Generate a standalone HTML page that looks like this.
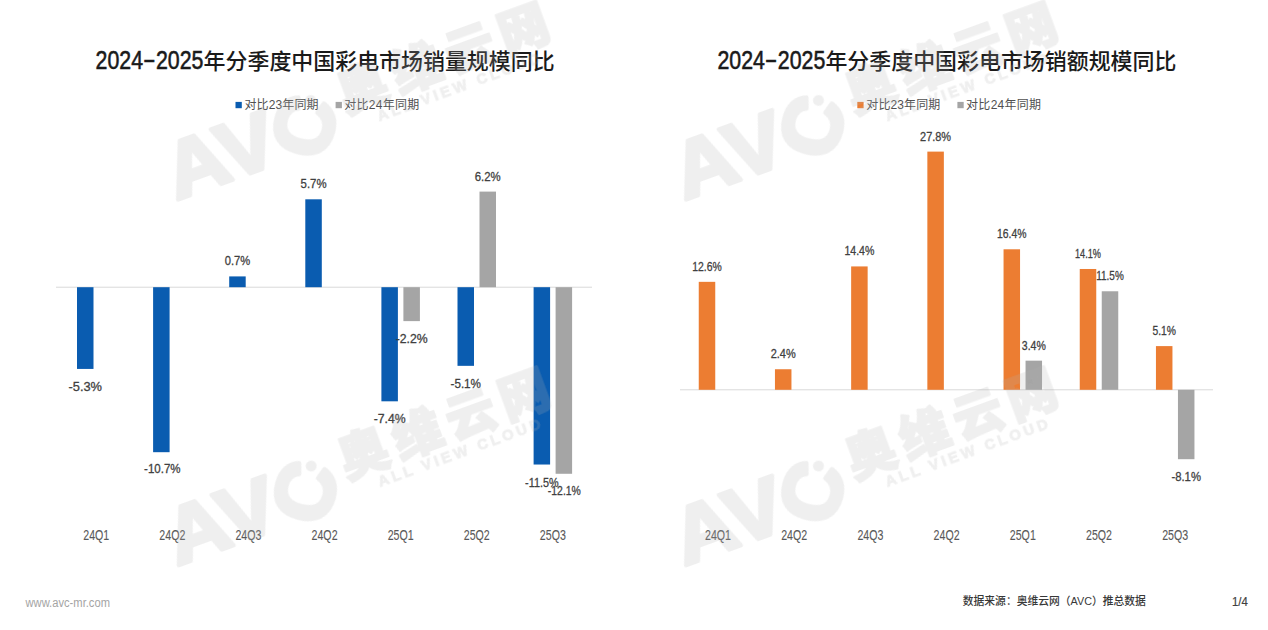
<!DOCTYPE html>
<html><head><meta charset="utf-8"><title>2024-2025年分季度中国彩电市场规模同比</title>
<style>
html,body{margin:0;padding:0;background:#fff;}
body{width:1268px;height:630px;overflow:hidden;}
svg{display:block;font-family:"Liberation Sans", "Noto Sans CJK SC", sans-serif;}
</style></head>
<body>
<svg width="1268" height="630" viewBox="0 0 1268 630">
<rect x="0" y="0" width="1268" height="630" fill="#ffffff"/>
<text x="95.60" y="69.30" font-size="25" fill="#1a1a1a" textLength="47.5" lengthAdjust="spacingAndGlyphs" stroke="#1a1a1a" stroke-width="0.55">2024</text>
<text x="142.90" y="67.60" font-size="25" fill="#1a1a1a" textLength="12.6" lengthAdjust="spacingAndGlyphs" stroke="#1a1a1a" stroke-width="0.55">-</text>
<text x="156.00" y="69.30" font-size="25" fill="#1a1a1a" textLength="47.5" lengthAdjust="spacingAndGlyphs" stroke="#1a1a1a" stroke-width="0.55">2025</text>
<text x="203.60" y="68.50" font-size="22" fill="#1a1a1a" textLength="351.0" lengthAdjust="spacingAndGlyphs" font-weight="500">年分季度中国彩电市场销量规模同比</text>
<rect x="235.50" y="101.90" width="6.30" height="6.30" fill="#0a5cb0"/>
<text x="244.50" y="108.60" font-size="12" fill="#505050" textLength="74.0" lengthAdjust="spacing">对比23年同期</text>
<rect x="335.60" y="101.90" width="6.30" height="6.30" fill="#a5a5a5"/>
<text x="344.30" y="108.60" font-size="12" fill="#505050" textLength="75.0" lengthAdjust="spacing">对比24年同期</text>
<rect x="56.00" y="286.70" width="536.00" height="1.00" fill="#d9d9d9"/>
<text x="96.25" y="540.00" font-size="14" fill="#595959" text-anchor="middle" textLength="26.0" lengthAdjust="spacingAndGlyphs" stroke="#5a5a5a" stroke-width="0.1">24Q1</text>
<rect x="77.00" y="287.20" width="16.50" height="81.73" fill="#0a5cb0"/>
<text x="85.25" y="390.73" font-size="13" fill="#404040" text-anchor="middle" textLength="33.5" lengthAdjust="spacingAndGlyphs" stroke="#404040" stroke-width="0.3">-5.3%</text>
<text x="172.35" y="540.00" font-size="14" fill="#595959" text-anchor="middle" textLength="26.0" lengthAdjust="spacingAndGlyphs" stroke="#5a5a5a" stroke-width="0.1">24Q2</text>
<rect x="153.10" y="287.20" width="16.50" height="164.99" fill="#0a5cb0"/>
<text x="162.35" y="472.60" font-size="13" fill="#404040" text-anchor="middle" textLength="36.5" lengthAdjust="spacingAndGlyphs" stroke="#404040" stroke-width="0.3">-10.7%</text>
<text x="248.45" y="540.00" font-size="14" fill="#595959" text-anchor="middle" textLength="26.0" lengthAdjust="spacingAndGlyphs" stroke="#5a5a5a" stroke-width="0.1">24Q3</text>
<rect x="229.20" y="276.41" width="16.50" height="10.79" fill="#0a5cb0"/>
<text x="237.45" y="265.41" font-size="13" fill="#404040" text-anchor="middle" textLength="25.5" lengthAdjust="spacingAndGlyphs" stroke="#404040" stroke-width="0.3">0.7%</text>
<text x="324.55" y="540.00" font-size="14" fill="#595959" text-anchor="middle" textLength="26.0" lengthAdjust="spacingAndGlyphs" stroke="#5a5a5a" stroke-width="0.1">24Q2</text>
<rect x="305.30" y="199.31" width="16.50" height="87.89" fill="#0a5cb0"/>
<text x="313.55" y="188.31" font-size="13" fill="#404040" text-anchor="middle" textLength="26.0" lengthAdjust="spacingAndGlyphs" stroke="#404040" stroke-width="0.3">5.7%</text>
<text x="400.65" y="540.00" font-size="14" fill="#595959" text-anchor="middle" textLength="26.0" lengthAdjust="spacingAndGlyphs" stroke="#5a5a5a" stroke-width="0.1">25Q1</text>
<rect x="381.40" y="287.20" width="16.50" height="114.11" fill="#0a5cb0"/>
<text x="389.65" y="423.11" font-size="13" fill="#404040" text-anchor="middle" textLength="32.0" lengthAdjust="spacingAndGlyphs" stroke="#404040" stroke-width="0.3">-7.4%</text>
<rect x="403.40" y="287.20" width="16.50" height="33.92" fill="#a5a5a5"/>
<text x="411.65" y="342.92" font-size="13" fill="#404040" text-anchor="middle" textLength="32.0" lengthAdjust="spacingAndGlyphs" stroke="#404040" stroke-width="0.3">-2.2%</text>
<text x="476.75" y="540.00" font-size="14" fill="#595959" text-anchor="middle" textLength="26.0" lengthAdjust="spacingAndGlyphs" stroke="#5a5a5a" stroke-width="0.1">25Q2</text>
<rect x="457.50" y="287.20" width="16.50" height="78.64" fill="#0a5cb0"/>
<text x="465.75" y="387.64" font-size="13" fill="#404040" text-anchor="middle" textLength="30.5" lengthAdjust="spacingAndGlyphs" stroke="#404040" stroke-width="0.3">-5.1%</text>
<rect x="479.50" y="191.60" width="16.50" height="95.60" fill="#a5a5a5"/>
<text x="487.75" y="180.60" font-size="13" fill="#404040" text-anchor="middle" textLength="26.0" lengthAdjust="spacingAndGlyphs" stroke="#404040" stroke-width="0.3">6.2%</text>
<text x="552.85" y="540.00" font-size="14" fill="#595959" text-anchor="middle" textLength="26.0" lengthAdjust="spacingAndGlyphs" stroke="#5a5a5a" stroke-width="0.1">25Q3</text>
<rect x="533.60" y="287.20" width="16.50" height="177.33" fill="#0a5cb0"/>
<text x="541.85" y="487.20" font-size="13" fill="#404040" text-anchor="middle" textLength="33.5" lengthAdjust="spacingAndGlyphs" stroke="#404040" stroke-width="0.3">-11.5%</text>
<rect x="555.60" y="287.20" width="16.50" height="186.58" fill="#a5a5a5"/>
<text x="564.35" y="495.20" font-size="13" fill="#404040" text-anchor="middle" textLength="33.0" lengthAdjust="spacingAndGlyphs" stroke="#404040" stroke-width="0.3">-12.1%</text>
<text x="717.40" y="69.30" font-size="25" fill="#1a1a1a" textLength="47.5" lengthAdjust="spacingAndGlyphs" stroke="#1a1a1a" stroke-width="0.55">2024</text>
<text x="764.70" y="67.60" font-size="25" fill="#1a1a1a" textLength="12.6" lengthAdjust="spacingAndGlyphs" stroke="#1a1a1a" stroke-width="0.55">-</text>
<text x="777.80" y="69.30" font-size="25" fill="#1a1a1a" textLength="47.5" lengthAdjust="spacingAndGlyphs" stroke="#1a1a1a" stroke-width="0.55">2025</text>
<text x="825.40" y="68.50" font-size="22" fill="#1a1a1a" textLength="351.0" lengthAdjust="spacingAndGlyphs" font-weight="500">年分季度中国彩电市场销额规模同比</text>
<rect x="857.30" y="101.90" width="6.30" height="6.30" fill="#ec7d32"/>
<text x="866.30" y="108.60" font-size="12" fill="#505050" textLength="74.0" lengthAdjust="spacing">对比23年同期</text>
<rect x="957.40" y="101.90" width="6.30" height="6.30" fill="#a5a5a5"/>
<text x="966.10" y="108.60" font-size="12" fill="#505050" textLength="75.0" lengthAdjust="spacing">对比24年同期</text>
<rect x="680.00" y="389.30" width="533.00" height="1.00" fill="#d9d9d9"/>
<text x="718.00" y="540.00" font-size="14" fill="#595959" text-anchor="middle" textLength="26.0" lengthAdjust="spacingAndGlyphs" stroke="#5a5a5a" stroke-width="0.1">24Q1</text>
<rect x="698.75" y="281.84" width="16.50" height="107.96" fill="#ec7d32"/>
<text x="707.00" y="270.84" font-size="13" fill="#404040" text-anchor="middle" textLength="29.5" lengthAdjust="spacingAndGlyphs" stroke="#404040" stroke-width="0.3">12.6%</text>
<text x="794.20" y="540.00" font-size="14" fill="#595959" text-anchor="middle" textLength="26.0" lengthAdjust="spacingAndGlyphs" stroke="#5a5a5a" stroke-width="0.1">24Q2</text>
<rect x="774.95" y="369.24" width="16.50" height="20.56" fill="#ec7d32"/>
<text x="783.20" y="358.24" font-size="13" fill="#404040" text-anchor="middle" textLength="25.0" lengthAdjust="spacingAndGlyphs" stroke="#404040" stroke-width="0.3">2.4%</text>
<text x="870.40" y="540.00" font-size="14" fill="#595959" text-anchor="middle" textLength="26.0" lengthAdjust="spacingAndGlyphs" stroke="#5a5a5a" stroke-width="0.1">24Q3</text>
<rect x="851.15" y="266.42" width="16.50" height="123.38" fill="#ec7d32"/>
<text x="859.40" y="255.42" font-size="13" fill="#404040" text-anchor="middle" textLength="30.0" lengthAdjust="spacingAndGlyphs" stroke="#404040" stroke-width="0.3">14.4%</text>
<text x="946.60" y="540.00" font-size="14" fill="#595959" text-anchor="middle" textLength="26.0" lengthAdjust="spacingAndGlyphs" stroke="#5a5a5a" stroke-width="0.1">24Q2</text>
<rect x="927.35" y="151.61" width="16.50" height="238.19" fill="#ec7d32"/>
<text x="935.60" y="140.61" font-size="13" fill="#404040" text-anchor="middle" textLength="31.0" lengthAdjust="spacingAndGlyphs" stroke="#404040" stroke-width="0.3">27.8%</text>
<text x="1022.80" y="540.00" font-size="14" fill="#595959" text-anchor="middle" textLength="26.0" lengthAdjust="spacingAndGlyphs" stroke="#5a5a5a" stroke-width="0.1">25Q1</text>
<rect x="1003.55" y="249.28" width="16.50" height="140.52" fill="#ec7d32"/>
<text x="1011.80" y="238.28" font-size="13" fill="#404040" text-anchor="middle" textLength="29.5" lengthAdjust="spacingAndGlyphs" stroke="#404040" stroke-width="0.3">16.4%</text>
<rect x="1025.55" y="360.67" width="16.50" height="29.13" fill="#a5a5a5"/>
<text x="1033.80" y="349.67" font-size="13" fill="#404040" text-anchor="middle" textLength="24.0" lengthAdjust="spacingAndGlyphs" stroke="#404040" stroke-width="0.3">3.4%</text>
<text x="1099.00" y="540.00" font-size="14" fill="#595959" text-anchor="middle" textLength="26.0" lengthAdjust="spacingAndGlyphs" stroke="#5a5a5a" stroke-width="0.1">25Q2</text>
<rect x="1079.75" y="268.99" width="16.50" height="120.81" fill="#ec7d32"/>
<text x="1088.00" y="257.99" font-size="13" fill="#404040" text-anchor="middle" textLength="26.0" lengthAdjust="spacingAndGlyphs" stroke="#404040" stroke-width="0.3">14.1%</text>
<rect x="1101.75" y="291.27" width="16.50" height="98.53" fill="#a5a5a5"/>
<text x="1110.00" y="280.27" font-size="13" fill="#404040" text-anchor="middle" textLength="27.5" lengthAdjust="spacingAndGlyphs" stroke="#404040" stroke-width="0.3">11.5%</text>
<text x="1175.20" y="540.00" font-size="14" fill="#595959" text-anchor="middle" textLength="26.0" lengthAdjust="spacingAndGlyphs" stroke="#5a5a5a" stroke-width="0.1">25Q3</text>
<rect x="1155.95" y="346.10" width="16.50" height="43.70" fill="#ec7d32"/>
<text x="1164.20" y="335.10" font-size="13" fill="#404040" text-anchor="middle" textLength="23.5" lengthAdjust="spacingAndGlyphs" stroke="#404040" stroke-width="0.3">5.1%</text>
<rect x="1177.95" y="389.80" width="16.50" height="69.40" fill="#a5a5a5"/>
<text x="1186.20" y="481.00" font-size="13" fill="#404040" text-anchor="middle" textLength="29.5" lengthAdjust="spacingAndGlyphs" stroke="#404040" stroke-width="0.3">-8.1%</text>
<text x="25.50" y="606.60" font-size="12.5" fill="#a4a4a4" textLength="84.5" lengthAdjust="spacingAndGlyphs">www.avc-mr.com</text>
<text x="962.80" y="605.30" font-size="11" fill="#383838" textLength="183.0" lengthAdjust="spacingAndGlyphs" font-weight="500">数据来源：奥维云网（AVC）推总数据</text>
<text x="1232.00" y="605.90" font-size="13" fill="#404040" textLength="15.8" lengthAdjust="spacingAndGlyphs" stroke="#404040" stroke-width="0.2">1/4</text>
<g fill="#b4b4b4" opacity="0.21"><g transform="translate(175 203) rotate(-20)">
<text x="2" y="-2" font-size="80" font-weight="bold" textLength="114" lengthAdjust="spacingAndGlyphs" stroke="#b4b4b4" stroke-width="4" stroke-linejoin="round">AV</text>
<text x="147" y="1" font-size="82" font-weight="bold" text-anchor="middle" transform="rotate(-55 147 -28)" stroke="#b4b4b4" stroke-width="4.5" stroke-linejoin="round">C</text>
<circle cx="162.4" cy="-50.1" r="5.5"/>
<text x="191" y="-26" font-size="50" font-weight="900" font-family="'Noto Sans CJK SC', sans-serif" letter-spacing="7" stroke="#b4b4b4" stroke-width="2" stroke-linejoin="round">奥维云网</text>
<text x="220" y="-7" font-size="15" font-weight="bold" textLength="172" lengthAdjust="spacing" stroke="#b4b4b4" stroke-width="0.8">ALL VIEW CLOUD</text>
</g>
<g transform="translate(683 203) rotate(-20)">
<text x="2" y="-2" font-size="80" font-weight="bold" textLength="114" lengthAdjust="spacingAndGlyphs" stroke="#b4b4b4" stroke-width="4" stroke-linejoin="round">AV</text>
<text x="147" y="1" font-size="82" font-weight="bold" text-anchor="middle" transform="rotate(-55 147 -28)" stroke="#b4b4b4" stroke-width="4.5" stroke-linejoin="round">C</text>
<circle cx="162.4" cy="-50.1" r="5.5"/>
<text x="191" y="-26" font-size="50" font-weight="900" font-family="'Noto Sans CJK SC', sans-serif" letter-spacing="7" stroke="#b4b4b4" stroke-width="2" stroke-linejoin="round">奥维云网</text>
<text x="220" y="-7" font-size="15" font-weight="bold" textLength="172" lengthAdjust="spacing" stroke="#b4b4b4" stroke-width="0.8">ALL VIEW CLOUD</text>
</g>
<g transform="translate(175.7 568.6) rotate(-20)">
<text x="2" y="-2" font-size="80" font-weight="bold" textLength="114" lengthAdjust="spacingAndGlyphs" stroke="#b4b4b4" stroke-width="4" stroke-linejoin="round">AV</text>
<text x="147" y="1" font-size="82" font-weight="bold" text-anchor="middle" transform="rotate(-55 147 -28)" stroke="#b4b4b4" stroke-width="4.5" stroke-linejoin="round">C</text>
<circle cx="162.4" cy="-50.1" r="5.5"/>
<text x="191" y="-26" font-size="50" font-weight="900" font-family="'Noto Sans CJK SC', sans-serif" letter-spacing="7" stroke="#b4b4b4" stroke-width="2" stroke-linejoin="round">奥维云网</text>
<text x="220" y="-7" font-size="15" font-weight="bold" textLength="172" lengthAdjust="spacing" stroke="#b4b4b4" stroke-width="0.8">ALL VIEW CLOUD</text>
</g>
<g transform="translate(683 568.6) rotate(-20)">
<text x="2" y="-2" font-size="80" font-weight="bold" textLength="114" lengthAdjust="spacingAndGlyphs" stroke="#b4b4b4" stroke-width="4" stroke-linejoin="round">AV</text>
<text x="147" y="1" font-size="82" font-weight="bold" text-anchor="middle" transform="rotate(-55 147 -28)" stroke="#b4b4b4" stroke-width="4.5" stroke-linejoin="round">C</text>
<circle cx="162.4" cy="-50.1" r="5.5"/>
<text x="191" y="-26" font-size="50" font-weight="900" font-family="'Noto Sans CJK SC', sans-serif" letter-spacing="7" stroke="#b4b4b4" stroke-width="2" stroke-linejoin="round">奥维云网</text>
<text x="220" y="-7" font-size="15" font-weight="bold" textLength="172" lengthAdjust="spacing" stroke="#b4b4b4" stroke-width="0.8">ALL VIEW CLOUD</text>
</g></g>
</svg>
</body></html>
